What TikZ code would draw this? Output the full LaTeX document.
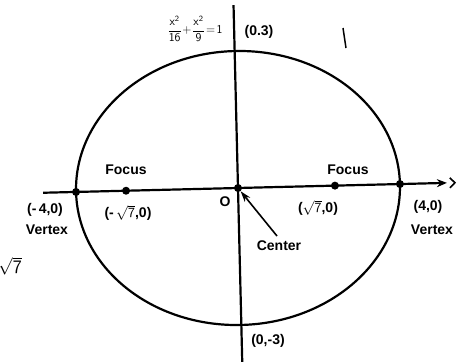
\documentclass[tikz,border=0pt]{standalone}
\usepackage{fontspec}
\setmainfont{Liberation Sans}
\usetikzlibrary{arrows.meta}
\begin{document}
\begin{tikzpicture}[x=1pt,y=-1pt,
  lbl/.style={font=\fontsize{14}{16}\selectfont\bfseries, inner sep=0pt},
  heavy/.style={line width=2.2pt},
  dot/.style={circle, fill=black, inner sep=0pt, minimum size=8pt}]
\useasboundingbox (0,0) rectangle (459,362);
\clip (0,0) rectangle (459,362);
\begin{scope}[rotate around={1.4:(238,188)}]
  \draw[heavy] (238,188) ellipse [x radius=162, y radius=137];
  \coordinate (hl) at (43,188);
  \coordinate (hr) at (447,188);
  \draw[heavy, -{Stealth[length=10pt,width=8pt]}] (hl) -- (hr);
  \coordinate (ch1) at (450,183);
  \coordinate (ch2) at (455,188);
  \coordinate (ch3) at (450,193);
  \draw[line width=1.6pt] (ch1) -- (ch2) -- (ch3);
  \coordinate (vt) at (238,5);
  \coordinate (vb) at (238,372);
  \draw[heavy] (vt) -- (vb);
  \node[dot] (lv) at (76,188) {};
  \node[dot] (rv) at (400,188) {};
  \node[dot] (lf) at (126,188) {};
  \node[dot] (rf) at (335,188) {};
  \node[dot] (c) at (238,188) {};
\end{scope}
\coordinate (ctail) at (277,236);
\draw[line width=1.6pt, -{Stealth[length=11pt,width=7pt]}] (ctail) -- (c);
\coordinate (s1) at (343,28);
\coordinate (s2) at (346,48);
\draw[line width=1.5pt] (s1) -- (s2);
\node[inner sep=0pt, font=\fontsize{12}{14}\selectfont\bfseries] (eq) at (195,29)
  {$\displaystyle\mathsf{\frac{x^2}{16}\!+\!\frac{x^2}{9}\!=\!1}$};
\node[lbl] (top) at (259,32) {(0.3)};
\node[lbl] (bot) at (268,341) {(0,-3)};
\node[lbl] (flab) at (126,170) {Focus};
\node[lbl] (frab) at (348,170) {Focus};
\node[lbl] (lvc) at (45,210) {(-\,4,0)};
\node[lbl] (lvt) at (47,230) {Vertex};
\node[lbl] (lfc) at (128,213) {(-\,$\sqrt{\mathsf{7}}$,0)};
\node[lbl] (rfc) at (318,208) {($\sqrt{\mathsf{7}}$,0)};
\node[lbl] (rvc) at (428,207) {(4,0)};
\node[lbl] (rvt) at (432,230) {Vertex};
\node[lbl] (o) at (225,202) {O};
\node[lbl] (cl) at (279,246) {Center};
\node[inner sep=0pt, anchor=east, font=\fontsize{19}{22}\selectfont] (r7) at (22,266) {$\sqrt{\mathsf{7}}$};
\end{tikzpicture}
\end{document}
